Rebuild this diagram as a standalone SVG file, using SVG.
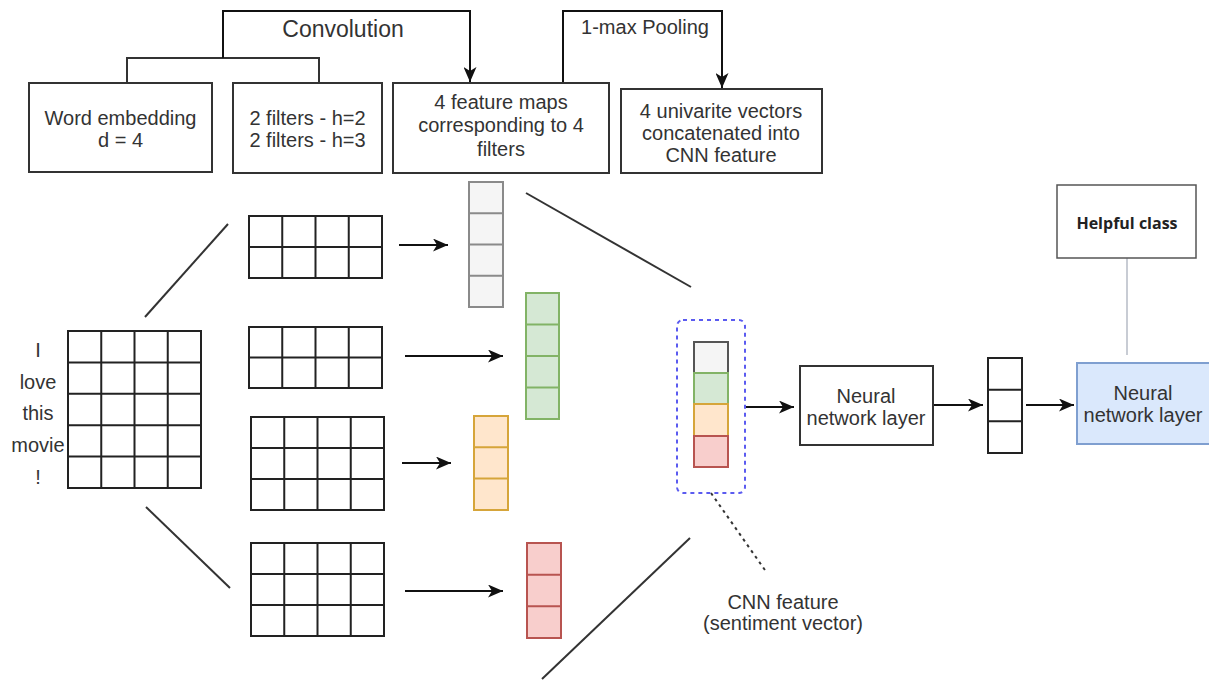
<svg xmlns="http://www.w3.org/2000/svg" width="1209" height="681" viewBox="0 0 1209 681">
<defs>
<style>
.t{font-family:"Liberation Sans",Arial,sans-serif;font-size:20px;fill:#333;text-anchor:middle}
.box{fill:#fff;stroke:#333;stroke-width:2}
.grid{fill:#fff;stroke:#222;stroke-width:2}
.gl{stroke:#222;stroke-width:2;fill:none}
.ln{stroke:#333;stroke-width:2;fill:none}
.ar{stroke:#111;stroke-width:2;fill:none;marker-end:url(#arr)}
.gray{fill:#f5f5f5;stroke:#8a8a8a;stroke-width:2}
.green{fill:#d5e8d4;stroke:#82b366;stroke-width:2}
.orange{fill:#ffe6cc;stroke:#d6a53a;stroke-width:2}
.red{fill:#f8cecc;stroke:#b85450;stroke-width:2}
</style>
<marker id="arr" viewBox="0 0 15 13" refX="15" refY="6.5" markerWidth="15" markerHeight="13" markerUnits="userSpaceOnUse" orient="auto">
<path d="M0,0 L15,6.5 L0,13 L4,6.5 z" fill="#111"/>
</marker>
</defs>
<rect width="1209" height="681" fill="#fff"/>

<g id="connectors">
<path class="ln" d="M127,83 V58 H319 V83"/>
<path class="ar" d="M223,58 V11 H470 V82"/>
<path class="ar" d="M563,88 V11 H722 V88"/>
<text class="t" x="343" y="37" style="font-size:23px">Convolution</text>
<text class="t" x="645" y="34">1-max Pooling</text>
<line class="ln" x1="145" y1="317" x2="228" y2="224"/>
<line class="ln" x1="146" y1="507" x2="230" y2="588"/>
<line class="ln" x1="526" y1="193" x2="691" y2="287"/>
<line class="ln" x1="690" y1="538" x2="542" y2="679"/>
<line x1="711" y1="493" x2="767" y2="573" stroke="#333" stroke-width="2" stroke-dasharray="3,4"/>
<line class="ar" x1="399" y1="245" x2="448" y2="245"/>
<line class="ar" x1="405" y1="356" x2="503" y2="356"/>
<line class="ar" x1="402" y1="463" x2="451" y2="463"/>
<line class="ar" x1="405" y1="591" x2="503" y2="591"/>
<line class="ar" x1="746" y1="407" x2="794" y2="407"/>
<line class="ar" x1="933" y1="405" x2="983" y2="405"/>
<line class="ar" x1="1026" y1="405" x2="1074" y2="405"/>
<line x1="1127" y1="258" x2="1127" y2="355" stroke="#c8ccd4" stroke-width="2"/>
</g>

<g id="word-embedding-box">
<rect class="box" x="29" y="83" width="183" height="89"/>
<text class="t" x="120.5" y="125">Word embedding</text>
<text class="t" x="120.5" y="147">d = 4</text>
</g>
<g id="filters-box">
<rect class="box" x="233" y="83" width="149" height="90"/>
<text class="t" x="307.5" y="125">2 filters - h=2</text>
<text class="t" x="307.5" y="147">2 filters - h=3</text>
</g>
<g id="feature-maps-box">
<rect class="box" x="393" y="83" width="216" height="90"/>
<text class="t" x="501" y="109">4 feature maps</text>
<text class="t" x="501" y="132">corresponding to 4</text>
<text class="t" x="501" y="156">filters</text>
</g>
<g id="univariate-box">
<rect class="box" x="621" y="89" width="201" height="84"/>
<text class="t" x="721" y="118">4 univarite vectors</text>
<text class="t" x="721" y="140">concatenated into</text>
<text class="t" x="721" y="162">CNN feature</text>
</g>

<g id="sentence">
<text class="t" x="38" y="357">I</text>
<text class="t" x="38" y="389">love</text>
<text class="t" x="38" y="420">this</text>
<text class="t" x="38" y="452">movie</text>
<text class="t" x="38" y="484">!</text>
</g>
<g id="embedding-matrix">
<rect class="grid" x="68" y="331" width="133" height="157"/>
<path class="gl" d="M101.25,331 V488 M134.5,331 V488 M167.75,331 V488 M68,362.4 H201 M68,393.8 H201 M68,425.2 H201 M68,456.6 H201"/>
</g>
<g id="filter-1">
<rect class="grid" x="249" y="216" width="133" height="62"/>
<path class="gl" d="M282.25,216 V278 M315.5,216 V278 M348.75,216 V278 M249,247 H382"/>
</g>
<g id="filter-2">
<rect class="grid" x="249" y="327" width="133" height="61"/>
<path class="gl" d="M282.25,327 V388 M315.5,327 V388 M348.75,327 V388 M249,357.5 H382"/>
</g>
<g id="filter-3">
<rect class="grid" x="251" y="417" width="133" height="93"/>
<path class="gl" d="M284.25,417 V510 M317.5,417 V510 M350.75,417 V510 M251,448 H384 M251,479 H384"/>
</g>
<g id="filter-4">
<rect class="grid" x="251" y="543" width="133" height="93"/>
<path class="gl" d="M284.25,543 V636 M317.5,543 V636 M350.75,543 V636 M251,574 H384 M251,605 H384"/>
</g>

<g id="feature-map-1">
<rect class="gray" x="469" y="182" width="34" height="125"/>
<path d="M469,213.25 H503 M469,244.5 H503 M469,275.75 H503" stroke="#8a8a8a" stroke-width="2"/>
</g>
<g id="feature-map-2">
<rect class="green" x="526" y="293" width="33" height="126"/>
<path d="M526,324.5 H559 M526,356 H559 M526,387.5 H559" stroke="#82b366" stroke-width="2"/>
</g>
<g id="feature-map-3">
<rect class="orange" x="474" y="416" width="34" height="94"/>
<path d="M474,447.3 H508 M474,478.6 H508" stroke="#d6a53a" stroke-width="2"/>
</g>
<g id="feature-map-4">
<rect class="red" x="527" y="543" width="34" height="95"/>
<path d="M527,574.7 H561 M527,606.3 H561" stroke="#b85450" stroke-width="2"/>
</g>

<g id="cnn-feature">
<rect x="677" y="320" width="68" height="173" rx="6" fill="none" stroke="#5b5bf0" stroke-width="2" stroke-dasharray="4,4"/>
<rect class="gray" x="694" y="342" width="34" height="31" style="stroke:#555"/>
<rect class="green" x="694" y="373" width="34" height="31"/>
<rect class="orange" x="694" y="404" width="34" height="32"/>
<rect class="red" x="694" y="436" width="34" height="31"/>
<text class="t" x="783" y="609">CNN feature</text>
<text class="t" x="783" y="630">(sentiment vector)</text>
</g>

<g id="neural-layer-1">
<rect class="box" x="800" y="366" width="133" height="79"/>
<text class="t" x="866" y="403">Neural</text>
<text class="t" x="866" y="425">network layer</text>
</g>
<g id="output-vector">
<rect class="grid" x="988" y="358" width="34" height="95"/>
<path class="gl" d="M988,389.7 H1022 M988,421.3 H1022"/>
</g>
<g id="neural-layer-2">
<rect x="1077" y="363" width="140" height="81" fill="#dae8fc" stroke="#7f9fd0" stroke-width="2"/>
<text class="t" x="1143" y="400">Neural</text>
<text class="t" x="1143" y="422">network layer</text>
</g>
<g id="helpful-class">
<rect x="1057" y="185" width="139" height="73" fill="#fff" stroke="#555" stroke-width="1.5"/>
<text x="1127" y="229" style="font-family:'Open Sans','Noto Sans',sans-serif;font-size:16px;font-weight:700;fill:#222;text-anchor:middle">Helpful class</text>
</g>
</svg>
